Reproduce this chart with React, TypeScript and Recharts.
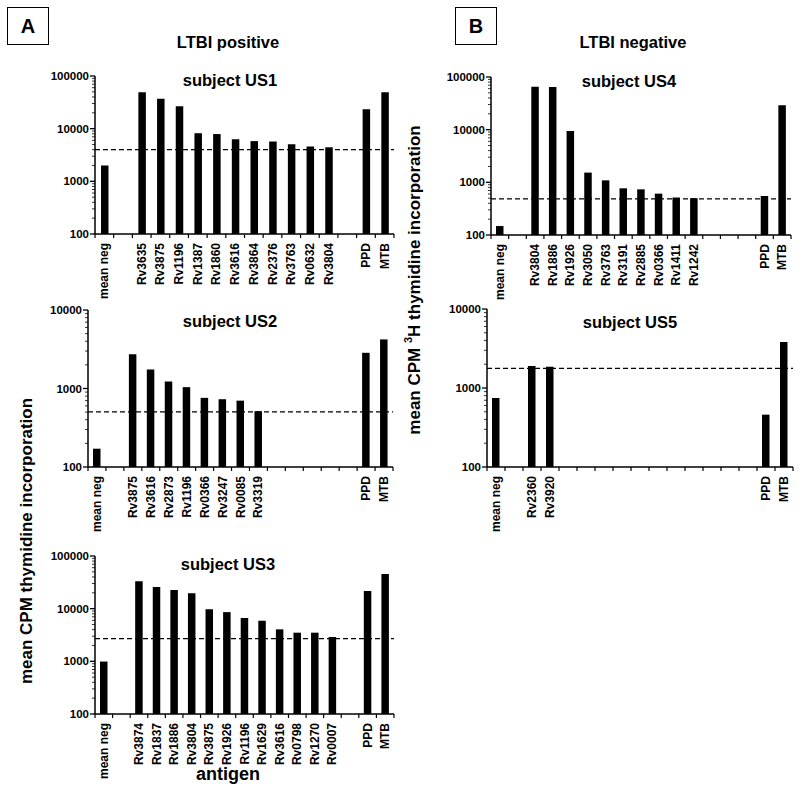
import React from 'react';
import { BarChart, Bar, XAxis, YAxis, ReferenceLine } from 'recharts';

// ---------- data ----------
const US1_LABELS = ["mean neg", "", "Rv3635", "Rv3875", "Rv1196", "Rv1387", "Rv1860", "Rv3616", "Rv3864", "Rv2376", "Rv3763", "Rv0632", "Rv3804", "", "PPD", "MTB"];
const US1_VALUES = [2000, null, 49000, 37000, 26600, 8200, 7900, 6300, 5800, 5700, 5050, 4600, 4430, null, 23400, 49000];
const US1_CUTOFF = 4000;

const US2_LABELS = ["mean neg", "", "Rv3875", "Rv3616", "Rv2873", "Rv1196", "Rv0366", "Rv3247", "Rv0085", "Rv3319", "", "", "", "", "", "PPD", "MTB"];
const US2_VALUES = [171, null, 2740, 1750, 1230, 1040, 760, 730, 700, 514, null, null, null, null, null, 2850, 4220];
const US2_CUTOFF = 505;

const US3_LABELS = ["mean neg", "", "Rv3874", "Rv1837", "Rv1886", "Rv3804", "Rv3875", "Rv1926", "Rv1196", "Rv1629", "Rv3616", "Rv0798", "Rv1270", "Rv0007", "", "PPD", "MTB"];
const US3_VALUES = [990, null, 33000, 25800, 22600, 19600, 9700, 8600, 6650, 5900, 4050, 3500, 3500, 2900, null, 21600, 45500];
const US3_CUTOFF = 2700;

const US4_LABELS = ["mean neg", "", "Rv3804", "Rv1886", "Rv1926", "Rv3050", "Rv3763", "Rv3191", "Rv2885", "Rv0366", "Rv1411", "Rv1242", "", "", "", "PPD", "MTB"];
const US4_VALUES = [148, null, 65500, 64500, 9400, 1530, 1090, 770, 736, 610, 515, 500, null, null, null, 550, 29000];
const US4_CUTOFF = 485;

const US5_LABELS = ["mean neg", "", "Rv2360", "Rv3920", "", "", "", "", "", "", "", "", "", "", "", "PPD", "MTB"];
const US5_VALUES = [747, null, 1900, 1860, null, null, null, null, null, null, null, null, null, null, null, 460, 3820];
const US5_CUTOFF = 1775;

const FONT = "Arial, 'Liberation Sans', Helvetica, sans-serif";

function logTicks(top: number): number[] {
  const out: number[] = [];
  for (let d = 100; d < top; d *= 10) {
    for (let m = 1; m <= 9; m++) out.push(d * m);
  }
  out.push(top);
  return out;
}

const YTick = (props: any) => {
  const { x, y, payload } = props;
  const v = payload.value;
  const lg = Math.log10(v);
  const major = Math.abs(lg - Math.round(lg)) < 1e-6;
  if (major) {
    return (
      <g>
        <line x1={x - 5} x2={x} y1={y} y2={y} stroke="#000" strokeWidth={1.3} />
        <text x={x - 6} y={y} textAnchor="end" dominantBaseline="central" fontFamily={FONT} fontWeight="bold" fontSize={11.5} fill="#000">
          {v}
        </text>
      </g>
    );
  }
  return <line x1={x - 3} x2={x} y1={y} y2={y} stroke="#000" strokeWidth={0.8} />;
};

const XTick = (props: any) => {
  const { x, y, payload, index, bw, n } = props;
  const lx = x - bw / 2;
  return (
    <g>
      <line x1={lx} x2={lx} y1={y} y2={y + 4} stroke="#000" strokeWidth={1.2} />
      {index === n - 1 ? <line x1={x + bw / 2} x2={x + bw / 2} y1={y} y2={y + 4} stroke="#000" strokeWidth={1.2} /> : null}
      {payload.value ? (
        <text
          x={x}
          y={y + 9}
          transform={`rotate(-90 ${x} ${y + 9})`}
          textAnchor="end"
          dominantBaseline="central"
          fontFamily={FONT}
          fontWeight="bold"
          fontSize={12}
          fill="#000"
        >
          {payload.value}
        </text>
      ) : null}
    </g>
  );
};

type PanelProps = {
  labels: string[];
  values: (number | null)[];
  cutoff: number;
  top: number;
  plotLeft: number;
  plotTop: number;
  plotW: number;
  plotH: number;
};

const YW = 60;
const XH = 75;
const MT = 10;
const MR = 5;

const Panel = ({ labels, values, cutoff, top, plotLeft, plotTop, plotW, plotH }: PanelProps) => {
  const data = labels.map((name, i) => ({ name, value: values[i] }));
  const n = labels.length;
  const bw = plotW / n;
  return (
    <div style={{ position: 'absolute', left: plotLeft - YW, top: plotTop - MT }}>
      <BarChart
        width={YW + plotW + MR}
        height={MT + plotH + XH}
        data={data}
        margin={{ top: MT, right: MR, bottom: 0, left: 0 }}
        barSize={7.5}
      >
        <XAxis
          dataKey="name"
          interval={0}
          height={XH}
          tickSize={0}
          tickMargin={0}
          tickLine={false}
          axisLine={{ stroke: '#000', strokeWidth: 1.5 }}
          tick={(p: any) => <XTick {...p} bw={bw} n={n} />}
        />
        <YAxis
          scale="log"
          type="number"
          domain={[100, top]}
          allowDataOverflow
          ticks={logTicks(top)}
          interval={0}
          width={YW}
          tickSize={0}
          tickMargin={0}
          tickLine={false}
          axisLine={{ stroke: '#000', strokeWidth: 1.5 }}
          tick={(p: any) => <YTick {...p} />}
        />
        <Bar dataKey="value" fill="#000" isAnimationActive={false} />
        <ReferenceLine y={cutoff} stroke="#000" strokeWidth={1.2} strokeDasharray="5 3" />
      </BarChart>
    </div>
  );
};

const titleStyle = {
  fontFamily: FONT,
  fontWeight: 'bold' as const,
  fontSize: 16.5,
  fill: '#000',
};

export default function App() {
  return (
    <div style={{ position: 'absolute', left: 0, top: 0, width: 800, height: 793, background: '#fff', overflow: 'hidden' }}>
      <Panel labels={US1_LABELS} values={US1_VALUES} cutoff={US1_CUTOFF} top={100000} plotLeft={95} plotTop={76} plotW={299} plotH={158} />
      <Panel labels={US2_LABELS} values={US2_VALUES} cutoff={US2_CUTOFF} top={10000} plotLeft={88} plotTop={310} plotW={305} plotH={157} />
      <Panel labels={US3_LABELS} values={US3_VALUES} cutoff={US3_CUTOFF} top={100000} plotLeft={95} plotTop={556} plotW={299} plotH={158} />
      <Panel labels={US4_LABELS} values={US4_VALUES} cutoff={US4_CUTOFF} top={100000} plotLeft={491} plotTop={77} plotW={300} plotH={158} />
      <Panel labels={US5_LABELS} values={US5_VALUES} cutoff={US5_CUTOFF} top={10000} plotLeft={487} plotTop={309} plotW={306} plotH={158} />
      <svg width={800} height={793} style={{ position: 'absolute', left: 0, top: 0, pointerEvents: 'none' }}>
        <rect x={7.5} y={7.5} width={41} height={37} fill="none" stroke="#000" strokeWidth={1} />
        <text x={28} y={26} textAnchor="middle" dominantBaseline="central" fontFamily={FONT} fontWeight="bold" fontSize={20}>A</text>
        <rect x={455.5} y={7.5} width={41} height={37} fill="none" stroke="#000" strokeWidth={1} />
        <text x={476} y={26} textAnchor="middle" dominantBaseline="central" fontFamily={FONT} fontWeight="bold" fontSize={20}>B</text>

        <text x={228} y={48} textAnchor="middle" style={titleStyle}>LTBI positive</text>
        <text x={633} y={48} textAnchor="middle" style={titleStyle}>LTBI negative</text>

        <text x={230} y={86} textAnchor="middle" style={titleStyle}>subject US1</text>
        <text x={230} y={327} textAnchor="middle" style={titleStyle}>subject US2</text>
        <text x={228} y={570} textAnchor="middle" style={titleStyle}>subject US3</text>
        <text x={629} y={87} textAnchor="middle" style={titleStyle}>subject US4</text>
        <text x={630} y={328} textAnchor="middle" style={titleStyle}>subject US5</text>

        <text x={228} y={780} textAnchor="middle" fontFamily={FONT} fontWeight="bold" fontSize={18}>antigen</text>

        <text
          x={26}
          y={541}
          transform="rotate(-90 26 541)"
          textAnchor="middle"
          dominantBaseline="central"
          fontFamily={FONT}
          fontWeight="bold"
          fontSize={17}
        >
          mean CPM thymidine incorporation
        </text>
        <text
          x={414}
          y={280}
          transform="rotate(-90 414 280)"
          textAnchor="middle"
          dominantBaseline="central"
          fontFamily={FONT}
          fontWeight="bold"
          fontSize={17}
        >
          mean CPM <tspan fontSize={11} dy={-6}>3</tspan><tspan dy={6}>H thymidine incorporation</tspan>
        </text>
      </svg>
    </div>
  );
}
